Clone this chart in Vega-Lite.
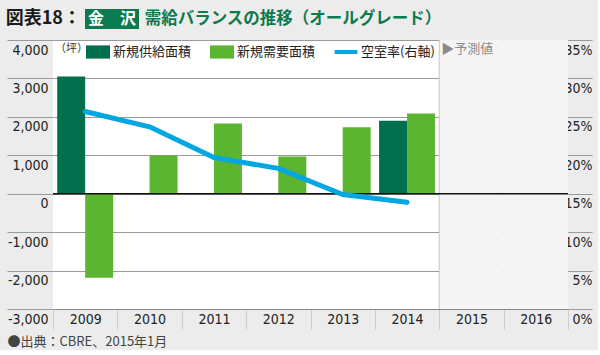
{
  "$schema": "https://vega.github.io/schema/vega-lite/v6.json",
  "background": "#ececec",
  "padding": {"left": 5, "top": 9, "right": 5, "bottom": 2},
  "config": {"view": {"stroke": null}, "font": "Noto Sans CJK JP"},
  "datasets": {
    "bars": [
      {"year": "2009", "series": "新規供給面積", "value": 3050},
      {"year": "2009", "series": "新規需要面積", "value": -2190},
      {"year": "2010", "series": "新規供給面積", "value": 0},
      {"year": "2010", "series": "新規需要面積", "value": 1000},
      {"year": "2011", "series": "新規供給面積", "value": 0},
      {"year": "2011", "series": "新規需要面積", "value": 1830},
      {"year": "2012", "series": "新規供給面積", "value": 0},
      {"year": "2012", "series": "新規需要面積", "value": 970},
      {"year": "2013", "series": "新規供給面積", "value": 0},
      {"year": "2013", "series": "新規需要面積", "value": 1730},
      {"year": "2014", "series": "新規供給面積", "value": 1900},
      {"year": "2014", "series": "新規需要面積", "value": 2090}
    ],
    "vacancy": [
      {"year": "2009", "rate": 25.7},
      {"year": "2010", "rate": 23.7},
      {"year": "2011", "rate": 19.7},
      {"year": "2012", "rate": 18.3},
      {"year": "2013", "rate": 14.9},
      {"year": "2014", "rate": 13.9}
    ],
    "forecast": [
      {"year": "2015", "phase": "予測値"},
      {"year": "2016", "phase": "予測値"}
    ]
  },
  "vconcat": [
    {
      "hconcat": [
        {
          "width": 28, "height": 20,
          "data": {"values": [{"t": "図表18："}]},
          "mark": {"type": "text", "fontSize": 18, "fontWeight": "bold", "color": "#1a1a1a", "align": "right", "dx": 14},
          "encoding": {"text": {"field": "t"}}
        },
        {
          "width": 54, "height": 20,
          "view": {"fill": "#0b7a4e"},
          "data": {"values": [{"t": "金　沢"}]},
          "mark": {"type": "text", "fontSize": 16, "fontWeight": "bold", "color": "#ffffff"},
          "encoding": {"text": {"field": "t"}}
        },
        {
          "width": 300, "height": 20,
          "data": {"values": [{"t": "需給バランスの推移（オールグレード）"}]},
          "mark": {"type": "text", "fontSize": 16.5, "fontWeight": "bold", "color": "#0b7a4e"},
          "encoding": {"text": {"field": "t"}}
        }
      ],
      "spacing": 4
    },
    {
      "width": 515,
      "height": 269,
      "view": {"fill": "#ffffff"},
      "layer": [
        {
          "layer": [
            {
              "data": {"name": "forecast"},
              "mark": {"type": "rect", "color": "#f4f4f4"},
              "encoding": {
                "x": {
                  "field": "year", "type": "ordinal",
                  "scale": {"domain": ["2009", "2010", "2011", "2012", "2013", "2014", "2015", "2016"], "paddingInner": 0, "paddingOuter": 0},
                  "axis": {
                    "orient": "bottom", "domainColor": "#888888", "domainWidth": 1,
                    "tickBand": "extent", "tickColor": "#cccccc", "tickSize": 20,
                    "labelPadding": -10, "labelBaseline": "middle", "labelAngle": 0,
                    "labelFont": "'DejaVu Sans Condensed', Roboto", "labelFontSize": 14, "labelColor": "#222222",
                    "title": "●出典：CBRE、2015年1月", "titleX": -46, "titleY": 32,
                    "titleAlign": "left", "titleAnchor": "start", "titleBaseline": "middle",
                    "titleFontSize": 13, "titleFontWeight": "normal", "titleColor": "#444444", "titleFont": "Noto Sans CJK JP"
                  }
                }
              }
            },
            {
              "data": {"name": "forecast"},
              "transform": [{"filter": "datum.year === '2015'"}],
              "mark": {"type": "rule", "color": "#c8c8c8", "strokeWidth": 1},
              "encoding": {"x": {"field": "year", "type": "ordinal", "bandPosition": 0}}
            },
            {
              "data": {"name": "bars"},
              "mark": {"type": "bar"},
              "encoding": {
                "x": {"field": "year", "type": "ordinal"},
                "xOffset": {"field": "series", "scale": {"domain": ["新規供給面積", "新規需要面積"], "paddingInner": 0, "paddingOuter": 0.15}},
                "y": {
                  "field": "value", "type": "quantitative",
                  "scale": {"domain": [-3000, 4000], "nice": false},
                  "axis": {
                    "values": [-3000, -2000, -1000, 0, 1000, 2000, 3000, 4000], "tickCount": 20,
                    "labelExpr": "datum.value < 0 ? '-' + format(-datum.value, ',') : format(datum.value, ',')",
                    "domain": false, "grid": true, "gridColor": "#999999", "gridWidth": 1,
                    "tickColor": "#999999", "tickSize": 46, "tickWidth": 1,
                    "labelPadding": -41, "labelAlign": "right", "labelBaseline": "middle", "labelOffset": 10,
                    "labelFont": "'DejaVu Sans Condensed', Roboto", "labelFontSize": 14, "labelColor": "#222222",
                    "labelOverlap": false, "labelBound": false, "labelFlush": false,
                    "title": null
                  }
                },
                "color": {
                  "field": "series", "type": "nominal",
                  "scale": {"domain": ["新規供給面積", "新規需要面積", "空室率(右軸)"], "range": ["#006f4e", "#5cb531", "#00a7e1"]},
                  "legend": {
                    "orient": "none", "legendX": 33, "legendY": 31, "direction": "horizontal",
                    "title": null, "padding": 0,
                    "symbolType": "M-1,-0.55H1V0.55H-1Z", "symbolSize": 576, "symbolStrokeWidth": 0, "symbolOpacity": 1,
                    "labelFontSize": 13, "labelFont": "Noto Sans CJK JP", "labelColor": "#222222",
                    "labelOffset": 3, "columnPadding": 18,
                    "encode": {
                      "symbols": {
                        "update": {
                          "shape": {"signal": "datum.value === '空室率(右軸)' ? 'M-0.95,-0.17H0.95V0.17H-0.95Z' : 'M-1,-0.55H1V0.55H-1Z'"}
                        }
                      }
                    }
                  }
                }
              }
            },
            {
              "data": {"values": [{}]},
              "mark": {"type": "rule", "color": "#111111", "strokeWidth": 1.5},
              "encoding": {"y": {"datum": 0}}
            },
            {
              "data": {"values": [{"year": "2015", "label": "▶予測値"}, {"year": "2009", "label": "（坪）"}]},
              "mark": {"type": "text", "align": "left", "baseline": "middle", "dx": 2},
              "encoding": {
                "x": {"field": "year", "type": "ordinal", "bandPosition": 0},
                "y": {"datum": 3760},
                "text": {"field": "label"},
                "size": {"condition": {"test": "datum.year === '2009'", "value": 11}, "value": 13},
                "color": {"condition": {"test": "datum.year === '2009'", "value": "#333333"}, "value": "#8a8a8a"}
              }
            }
          ]
        },
        {
          "data": {"name": "vacancy"},
          "mark": {"type": "line", "color": "#00a7e1", "strokeWidth": 5, "strokeCap": "round", "strokeJoin": "round"},
          "encoding": {
            "x": {"field": "year", "type": "ordinal"},
            "y": {
              "field": "rate", "type": "quantitative",
              "scale": {"domain": [0, 35], "nice": false},
              "axis": {
                "orient": "right", "values": [0, 5, 10, 15, 20, 25, 30, 35], "tickCount": 20,
                "labelExpr": "datum.value + '%'",
                "domain": false, "grid": false, "tickColor": "#999999", "tickSize": 24, "tickWidth": 1,
                "labelPadding": 0, "labelAlign": "right", "labelBaseline": "middle", "labelOffset": 10,
                "labelFont": "'DejaVu Sans Condensed', Roboto", "labelFontSize": 14, "labelColor": "#222222",
                "labelOverlap": false, "labelBound": false, "labelFlush": false, "title": null
              }
            }
          }
        }
      ],
      "resolve": {"scale": {"y": "independent"}, "axis": {"y": "independent"}}
    }
  ],
  "spacing": 10
}
